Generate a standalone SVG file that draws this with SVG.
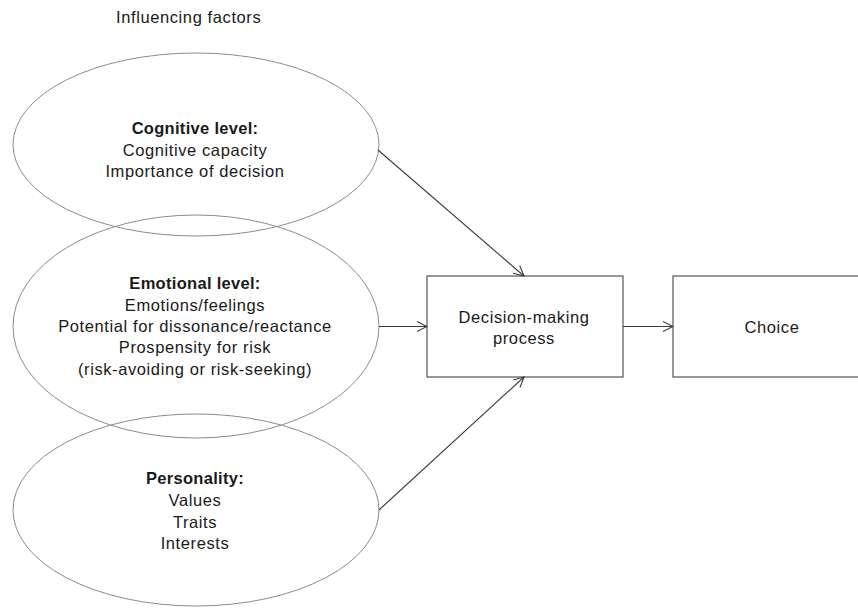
<svg xmlns="http://www.w3.org/2000/svg" width="858" height="608" viewBox="0 0 858 608">
  <style>
    .bg { fill: #ffffff; }
    .factor { fill: none; stroke: #8c8c8c; stroke-width: 1; }
    .box { fill: #ffffff; stroke: #555555; stroke-width: 1.2; }
    .txt { font-family: "Liberation Sans", Arial, sans-serif; font-size: 16.5px; letter-spacing: 0.6px; fill: #1a1a1a; text-anchor: middle; }
    .head { font-weight: bold; letter-spacing: 0.3px; }
    .edge { fill: none; stroke: #3a3a3a; stroke-width: 1.1; marker-end: url(#arrow); }
  </style>
  <defs>
    <marker id="arrow" viewBox="0 0 12 12" refX="11" refY="6" markerWidth="12" markerHeight="12" markerUnits="userSpaceOnUse" orient="auto">
      <path d="M1,1 L11,6 L1,11" fill="none" stroke="#3a3a3a" stroke-width="1.1"/>
    </marker>
  </defs>

  <rect class="bg" x="0" y="0" width="858" height="608"/>

  <text id="title" class="txt" x="116" y="23" style="text-anchor:start">Influencing factors</text>

  <g id="cognitive">
    <ellipse class="factor" cx="196" cy="144.5" rx="183" ry="91.5"/>
    <text class="txt head" x="195" y="134">Cognitive level:</text>
    <text class="txt" x="195" y="156">Cognitive capacity</text>
    <text class="txt" x="195" y="177">Importance of decision</text>
  </g>

  <g id="emotional">
    <ellipse class="factor" cx="196" cy="326.5" rx="183" ry="111.5"/>
    <text class="txt head" x="195" y="289">Emotional level:</text>
    <text class="txt" x="195" y="311">Emotions/feelings</text>
    <text class="txt" x="195" y="332">Potential for dissonance/reactance</text>
    <text class="txt" x="195" y="353">Prospensity for risk</text>
    <text class="txt" x="195" y="375">(risk-avoiding or risk-seeking)</text>
  </g>

  <g id="personality">
    <ellipse class="factor" cx="196" cy="510" rx="183" ry="96"/>
    <text class="txt head" x="195" y="484">Personality:</text>
    <text class="txt" x="195" y="506">Values</text>
    <text class="txt" x="195" y="528">Traits</text>
    <text class="txt" x="195" y="549">Interests</text>
  </g>

  <g id="decision">
    <rect class="box" x="427" y="276" width="196" height="101"/>
    <text class="txt" x="524" y="323">Decision-making</text>
    <text class="txt" x="524" y="344">process</text>
  </g>

  <g id="choice">
    <rect class="box" x="673" y="276" width="200" height="101"/>
    <text class="txt" x="772" y="333">Choice</text>
  </g>

  <g id="connectors">
    <line class="edge" x1="378" y1="150" x2="524" y2="276"/>
    <line class="edge" x1="379" y1="326.5" x2="427" y2="326.5"/>
    <line class="edge" x1="379" y1="510" x2="524" y2="377"/>
    <line class="edge" x1="623" y1="326.5" x2="673" y2="326.5"/>
  </g>
</svg>
